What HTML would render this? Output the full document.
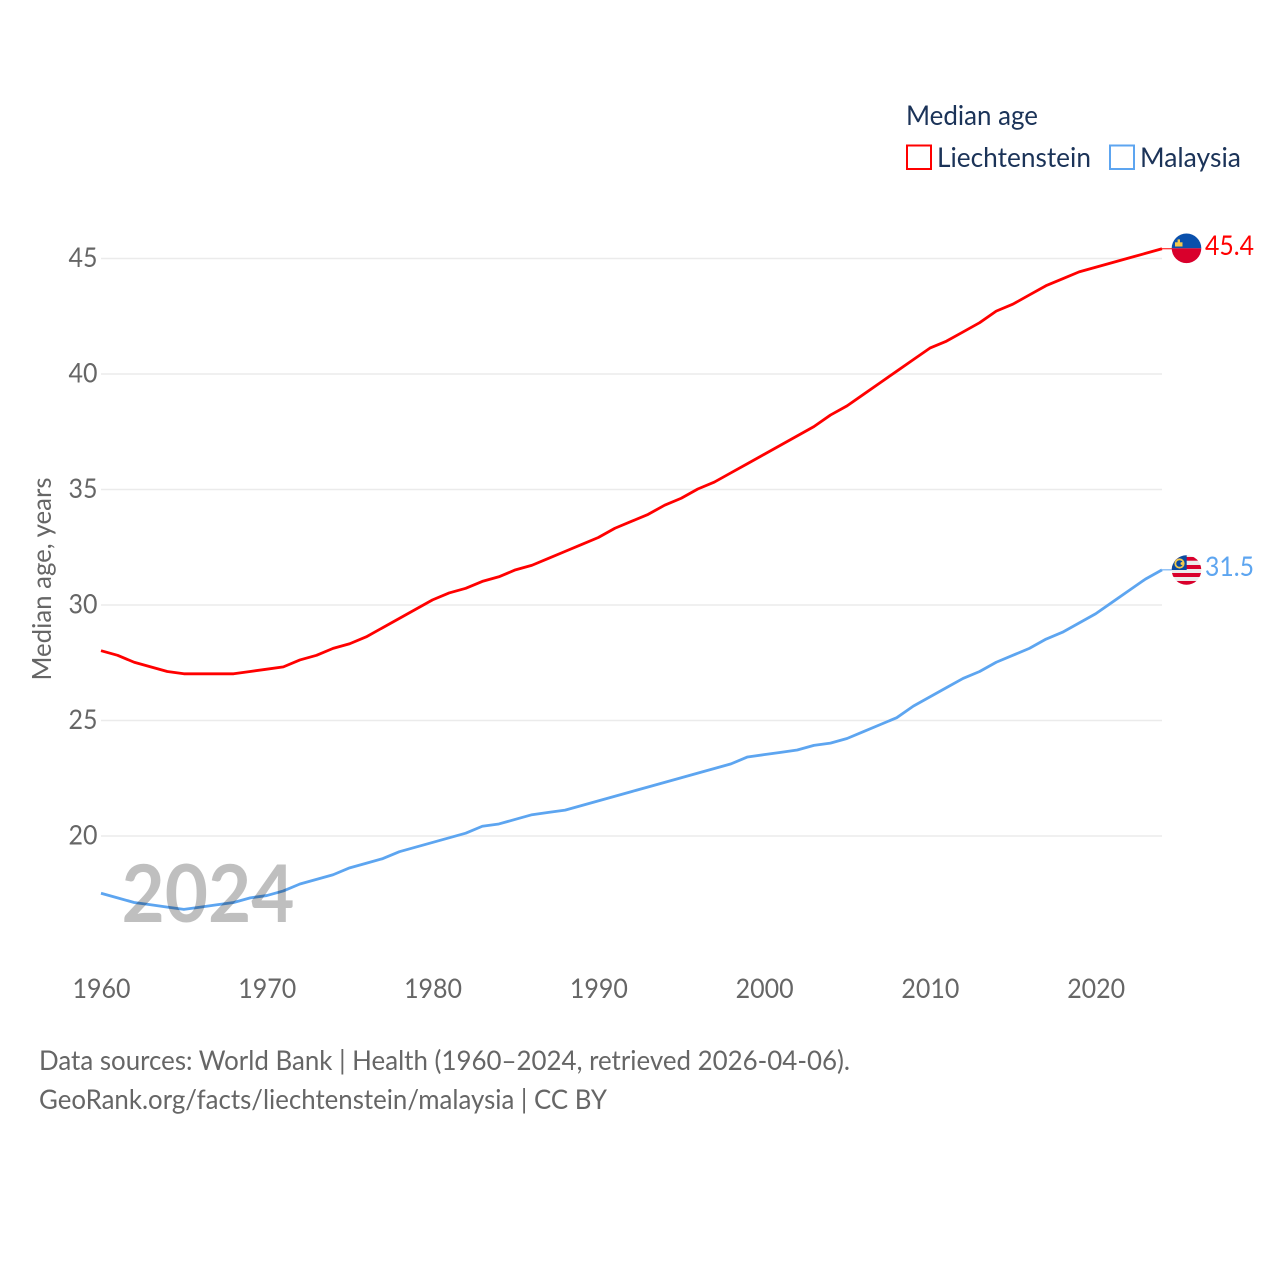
<!DOCTYPE html>
<html>
<head>
<meta charset="utf-8">
<title>Median age: Liechtenstein and Malaysia</title>
<style>
html,body{margin:0;padding:0;background:#fff;}
svg{display:block;}
text{font-family:"Lato","Carlito","Liberation Sans",sans-serif;}
</style>
</head>
<body>
<svg id="chart" xmlns="http://www.w3.org/2000/svg" width="1280" height="1280" viewBox="0 0 1280 1280">
  <defs>
    <clipPath id="clip-li"><circle cx="1186.5" cy="248.3" r="14.8"/></clipPath>
    <clipPath id="clip-my"><circle cx="1186.5" cy="570" r="14.8"/></clipPath>
  </defs>
  <rect x="0" y="0" width="1280" height="1280" fill="#fff"/>

  <g id="grid"></g>
  <g id="yticks"></g>
  <g id="xticks"></g>

  <text transform="translate(51,680.5) rotate(-90)" font-size="26.5" fill="#666" textLength="203" lengthAdjust="spacingAndGlyphs">Median age, years</text>

  <g>
    <text x="906" y="125" font-size="27" fill="#1b3358" textLength="132" lengthAdjust="spacingAndGlyphs">Median age</text>
    <g>
      <rect x="907" y="145.5" width="24" height="23.5" fill="#fff" stroke="#ff0000" stroke-width="2"/>
      <text x="937" y="167" font-size="27" fill="#1b3358" textLength="154" lengthAdjust="spacingAndGlyphs">Liechtenstein</text>
    </g>
    <g>
      <rect x="1110" y="145.5" width="24" height="23.5" fill="#fff" stroke="#5da5f0" stroke-width="2"/>
      <text x="1140" y="167" font-size="27" fill="#1b3358" textLength="101" lengthAdjust="spacingAndGlyphs">Malaysia</text>
    </g>
  </g>

  <g id="series" transform="translate(0,-0.5)"></g>

  <g id="flag-li" clip-path="url(#clip-li)">
    <rect x="1171" y="233" width="31" height="15.3" fill="#0a50ac"/>
    <rect x="1171" y="248.3" width="31" height="16" fill="#d9002c"/>
    <rect x="1175" y="242.3" width="7.5" height="4.2" fill="#f2c94c"/>
    <rect x="1177.6" y="239.4" width="2.4" height="3.2" fill="#f2c94c"/>
  </g>
  <g id="flag-my" clip-path="url(#clip-my)">
    <rect x="1171" y="554" width="31" height="32" fill="#ececec"/>
    <rect x="1171" y="557" width="31" height="3.7" fill="#d9002c"/>
    <rect x="1171" y="565" width="31" height="4" fill="#d9002c"/>
    <rect x="1171" y="573" width="31" height="4" fill="#d9002c"/>
    <rect x="1171" y="581" width="31" height="4" fill="#d9002c"/>
    <rect x="1171" y="554" width="15.7" height="16" fill="#0a4aa0"/>
    <circle cx="1179.5" cy="563.5" r="4.2" fill="none" stroke="#f2c94c" stroke-width="1.8"/>
    <circle cx="1182" cy="563.5" r="1.5" fill="#f2c94c"/>
  </g>

  <g id="end-labels"></g>

  <text x="121.5" y="922" font-size="80" font-weight="700" fill="#000" fill-opacity="0.25" textLength="173" lengthAdjust="spacingAndGlyphs">2024</text>

  <g>
    <text x="39" y="1070" font-size="27" fill="#666" textLength="811" lengthAdjust="spacingAndGlyphs">Data sources: World Bank | Health (1960–2024, retrieved 2026-04-06).</text>
    <text x="39" y="1109" font-size="27" fill="#666" textLength="568" lengthAdjust="spacingAndGlyphs">GeoRank.org/facts/liechtenstein/malaysia | CC BY</text>
  </g>
</svg>

<script>
const firstYear = 1960;
const liechtenstein = [
  28.0,27.8,27.5,27.3,27.1,27.0,27.0,27.0,27.0,27.1,
  27.2,27.3,27.6,27.8,28.1,28.3,28.6,29.0,29.4,29.8,
  30.2,30.5,30.7,31.0,31.2,31.5,31.7,32.0,32.3,32.6,
  32.9,33.3,33.6,33.9,34.3,34.6,35.0,35.3,35.7,36.1,
  36.5,36.9,37.3,37.7,38.2,38.6,39.1,39.6,40.1,40.6,
  41.1,41.4,41.8,42.2,42.7,43.0,43.4,43.8,44.1,44.4,
  44.6,44.8,45.0,45.2,45.4
];
const malaysia = [
  17.5,17.3,17.1,17.0,16.9,16.8,16.9,17.0,17.1,17.3,
  17.4,17.6,17.9,18.1,18.3,18.6,18.8,19.0,19.3,19.5,
  19.7,19.9,20.1,20.4,20.5,20.7,20.9,21.0,21.1,21.3,
  21.5,21.7,21.9,22.1,22.3,22.5,22.7,22.9,23.1,23.4,
  23.5,23.6,23.7,23.9,24.0,24.2,24.5,24.8,25.1,25.6,
  26.0,26.4,26.8,27.1,27.5,27.8,28.1,28.5,28.8,29.2,
  29.6,30.1,30.6,31.1,31.5
];
const yTickValues = [20,25,30,35,40,45];
const xTickValues = [1960,1970,1980,1990,2000,2010,2020];

const NS = 'http://www.w3.org/2000/svg';
const xAxis = function (year) { return 101 + (year - 1960) * (1162 - 101) / 64; };
const yAxis = function (v) { return 836 - (v - 20) * (836 - 258.5) / 25; };

const gridG = document.getElementById('grid');
const yG = document.getElementById('yticks');
const xG = document.getElementById('xticks');
const seriesG = document.getElementById('series');
const labelsG = document.getElementById('end-labels');

yTickValues.forEach(function (v) {
  const line = document.createElementNS(NS, 'line');
  
  
  line.setAttribute('x1', 101);
  line.setAttribute('x2', 1162);
  line.setAttribute('y1', yAxis(v));
  line.setAttribute('y2', yAxis(v));
  line.setAttribute('stroke', '#ebebeb');
  line.setAttribute('stroke-width', '1.5');
  gridG.appendChild(line);

  const t = document.createElementNS(NS, 'text');
  
  
  t.setAttribute('x', 97.5);
  t.setAttribute('y', yAxis(v) + 8.5);
  t.setAttribute('text-anchor', 'end');
  t.setAttribute('font-size', '27');
  t.setAttribute('fill', '#666');
  t.setAttribute('textLength', '29');
  t.setAttribute('lengthAdjust', 'spacingAndGlyphs');
  t.textContent = String(v);
  yG.appendChild(t);
});

xTickValues.forEach(function (year) {
  const t = document.createElementNS(NS, 'text');
  
  
  t.setAttribute('x', xAxis(year) + 0.5);
  t.setAttribute('y', 998);
  t.setAttribute('text-anchor', 'middle');
  t.setAttribute('font-size', '27');
  t.setAttribute('fill', '#666');
  t.setAttribute('textLength', '58');
  t.setAttribute('lengthAdjust', 'spacingAndGlyphs');
  t.textContent = String(year);
  xG.appendChild(t);
});

function seriesPoints(values) {
  return values.map(function (v, i) {
    return xAxis(firstYear + i).toFixed(2) + ',' + yAxis(v).toFixed(2);
  }).join(' ');
}

function lastOf(values) { return values[values.length - 1]; }

const liLine = document.createElementNS(NS, 'polyline');


liLine.setAttribute('points', seriesPoints(liechtenstein));
liLine.setAttribute('fill', 'none');
liLine.setAttribute('stroke', '#ff0000');
liLine.setAttribute('stroke-width', '2.8');
liLine.setAttribute('stroke-linejoin', 'round');
seriesG.appendChild(liLine);

const myLine = document.createElementNS(NS, 'polyline');


myLine.setAttribute('points', seriesPoints(malaysia));
myLine.setAttribute('fill', 'none');
myLine.setAttribute('stroke', '#5da5f0');
myLine.setAttribute('stroke-width', '2.8');
myLine.setAttribute('stroke-linejoin', 'round');
seriesG.appendChild(myLine);

const liConn = document.createElementNS(NS, 'line');


liConn.setAttribute('x1', 1162);
liConn.setAttribute('x2', 1172);
liConn.setAttribute('y1', yAxis(lastOf(liechtenstein)));
liConn.setAttribute('y2', yAxis(lastOf(liechtenstein)));
liConn.setAttribute('stroke', '#ff0000');
liConn.setAttribute('stroke-width', '1');
seriesG.appendChild(liConn);

const myConn = document.createElementNS(NS, 'line');


myConn.setAttribute('x1', 1162);
myConn.setAttribute('x2', 1172);
myConn.setAttribute('y1', yAxis(lastOf(malaysia)));
myConn.setAttribute('y2', yAxis(lastOf(malaysia)));
myConn.setAttribute('stroke', '#5da5f0');
myConn.setAttribute('stroke-width', '1');
seriesG.appendChild(myConn);

const liLabel = document.createElementNS(NS, 'text');


liLabel.setAttribute('x', 1205);
liLabel.setAttribute('y', yAxis(lastOf(liechtenstein)) + 5.5);
liLabel.setAttribute('font-size', '27');
liLabel.setAttribute('fill', '#ff0000');
liLabel.setAttribute('textLength', '49');
liLabel.setAttribute('lengthAdjust', 'spacingAndGlyphs');
liLabel.textContent = lastOf(liechtenstein).toFixed(1);
labelsG.appendChild(liLabel);

const myLabel = document.createElementNS(NS, 'text');


myLabel.setAttribute('x', 1205);
myLabel.setAttribute('y', yAxis(lastOf(malaysia)) + 5.5);
myLabel.setAttribute('font-size', '27');
myLabel.setAttribute('fill', '#5da5f0');
myLabel.setAttribute('textLength', '49');
myLabel.setAttribute('lengthAdjust', 'spacingAndGlyphs');
myLabel.textContent = lastOf(malaysia).toFixed(1);
labelsG.appendChild(myLabel);
</script>
</body>
</html>
